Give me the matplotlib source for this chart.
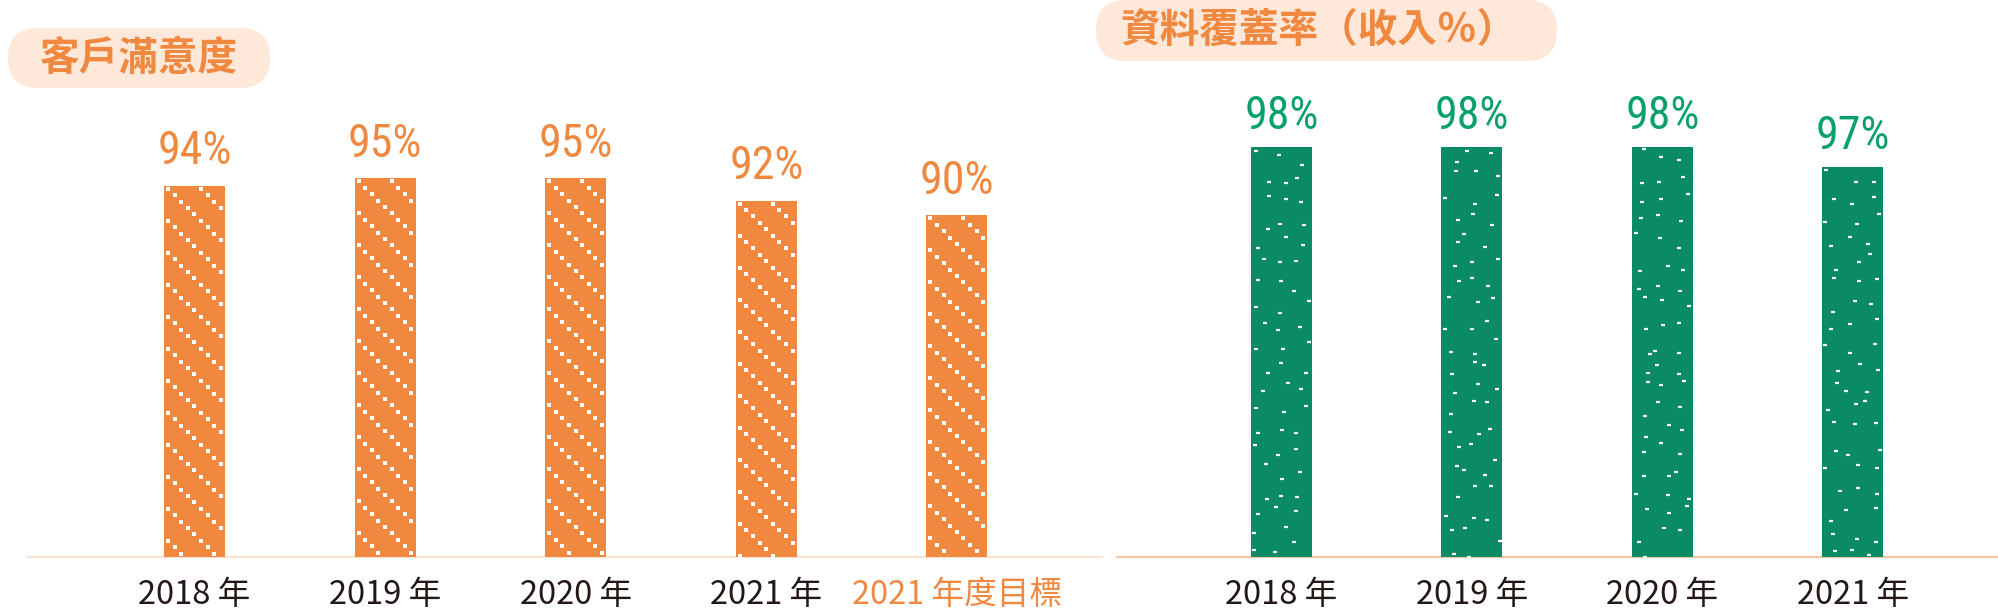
import numpy as np
import matplotlib
matplotlib.use("Agg")
import matplotlib.pyplot as plt
from matplotlib import font_manager
from matplotlib.patches import FancyBboxPatch

# data
sat_labels = ["2018 年", "2019 年", "2020 年", "2021 年", "2021 年度目標"]
sat_values = [94, 95, 95, 92, 90]
cov_labels = ["2018 年", "2019 年", "2020 年", "2021 年"]
cov_values = [98, 98, 98, 97]

ORANGE = "#F0883F"
GREEN = "#0B8B63"
GREEN_TXT = "#0AA06E"
PEACH = "#FDE8DA"
DARK = "#231815"

fonts = font_manager.fontManager.ttflist
names = {f.name for f in fonts}
num_font = "Roboto"
for cand in ("Roboto Condensed", "Liberation Sans Narrow"):
    if cand in names:
        num_font = cand
        break
cjk = ["Noto Sans CJK TC", "DejaVu Sans"]
title_w = "bold"
if any(f.name == "Noto Sans CJK TC" and f.weight in (500, "medium") for f in fonts):
    title_w = "medium"

W, H = 1999, 611
fig = plt.figure(figsize=(W / 100, H / 100), dpi=100)


def px_axes(x0, x1, y_top, y_bot):
    return fig.add_axes([x0 / W, 1 - y_bot / H, (x1 - x0) / W, (y_bot - y_top) / H])


ax1 = px_axes(28, 1102, 100, 557)
ax2 = px_axes(1117, 1999, 100, 557)

ax1.set_xlim(-0.874, 4.761)
ax1.set_ylim(43.9, 43.9 + 457 / 7.41)
ax2.set_xlim(-0.864, 3.768)
ax2.set_ylim(77.5, 77.5 + 457 / 20)

bars1 = ax1.bar(range(len(sat_values)), sat_values, width=0.32, color=ORANGE, zorder=2)
bars2 = ax2.bar(range(len(cov_values)), cov_values, width=0.32, color=GREEN, zorder=2)

for ax, line_col in ((ax1, "#FBE2D1"), (ax2, "#F8C8A4")):
    for s in ("top", "left", "right"):
        ax.spines[s].set_visible(False)
    ax.spines["bottom"].set_color(line_col)
    ax.spines["bottom"].set_linewidth(1.6)
    ax.spines["bottom"].set_zorder(1)
    ax.set_yticks([])
    ax.tick_params(axis="x", length=0, pad=27.5)

ax1.set_xticks(range(len(sat_labels)), sat_labels)
ax2.set_xticks(range(len(cov_labels)), cov_labels)
for ax in (ax1, ax2):
    for i, lbl in enumerate(ax.get_xticklabels()):
        lbl.set_fontfamily(cjk)
        lbl.set_fontsize(23.5)
        lbl.set_va("center")
        lbl.set_color(DARK)
ax1.get_xticklabels()[-1].set_color(ORANGE)

# value labels
for i, v in enumerate(sat_values):
    ax1.annotate(f"{v}%", (i, v), xytext=(0, 15.5), textcoords="offset points",
                 ha="center", va="baseline", fontsize=33, color=ORANGE, family=num_font)
for i, v in enumerate(cov_values):
    ax2.annotate(f"{v}%", (i, v), xytext=(0, 13), textcoords="offset points",
                 ha="center", va="baseline", fontsize=33, color=GREEN_TXT, family=num_font)

# bar textures (pixel-space decoration)
fig.canvas.draw()
for b in bars1:
    (x0, y0), (x1, y1) = ax1.transData.transform([(b.get_x(), b.get_y()), (b.get_x() + b.get_width(), b.get_height())])
    y0 = max(y0, ax1.transAxes.transform((0, 0))[1])
    pts = []
    for j, yy in enumerate(np.arange(y1 - 3, y0, -6.4)):
        off = (j * 6.6) % 33
        for xx in np.arange(x0 + 4 + off - 33, x1, 33):
            if x0 + 1 < xx < x1 - 1:
                pts.append((xx, yy))
    pts = ax1.transData.inverted().transform(np.array(pts))
    sc = ax1.scatter(pts[:, 0], pts[:, 1], marker="s", s=8, color="white", linewidths=0, zorder=3)
    sc.set_clip_path(b)

# green bars: one small speck per 20x21 px cell, jittered
for bi, b in enumerate(bars2):
    (x0, y0), (x1, y1) = ax2.transData.transform([(b.get_x(), b.get_y()), (b.get_x() + b.get_width(), b.get_height())])
    y0 = max(y0, ax2.transAxes.transform((0, 0))[1])
    gx, gy = np.meshgrid(np.arange(x0, x1 - 5, 20.3), np.arange(y1, y0, -21))
    gx, gy = gx.ravel(), gy.ravel()
    k = np.arange(gx.size) + 131 * bi + 7
    jx = (np.sin(k * 12.9898) * 43758.5453) % 1
    jy = (np.sin(k * 78.233) * 43758.5453) % 1
    pts = np.column_stack([gx + 2 + jx * 16, gy - 2 - jy * 17])
    pts = ax2.transData.inverted().transform(pts)
    sc = ax2.scatter(pts[:, 0], pts[:, 1], marker="_", s=9, color="white", linewidths=1.6, zorder=3)
    sc.set_clip_path(b)

# title pills
ov = fig.add_axes([0, 0, 1, 1], zorder=-1)
ov.set_xlim(0, W)
ov.set_ylim(H, 0)
ov.axis("off")
ov.add_patch(FancyBboxPatch((8, 28), 262, 60, boxstyle="round,pad=0,rounding_size=30",
                            fc=PEACH, ec="none"))
ov.text(139.5, 58, "客戶滿意度", ha="center", va="center", fontsize=28.5,
        color=ORANGE, family=cjk, weight=title_w)
ov.add_patch(FancyBboxPatch((1096, 0), 461, 61, boxstyle="round,pad=0,rounding_size=30",
                            fc=PEACH, ec="none"))
ov.text(1319, 30, "資料覆蓋率（收入％）", ha="center", va="center", fontsize=28.5,
        color=ORANGE, family=cjk, weight=title_w)

fig.savefig("out.png", dpi=100)
